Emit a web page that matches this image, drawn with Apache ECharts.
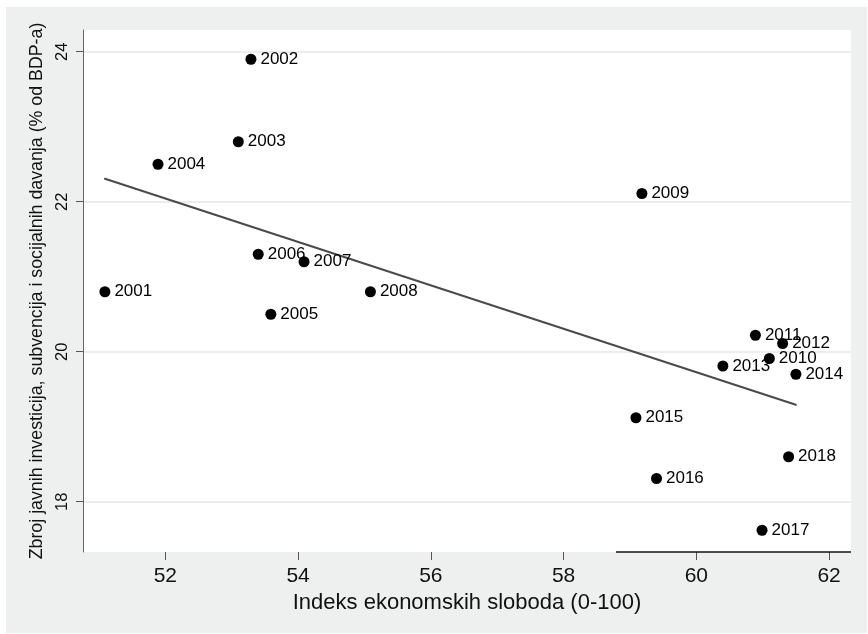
<!DOCTYPE html>
<html>
<head>
<meta charset="utf-8">
<script src="https://cdn.jsdelivr.net/npm/echarts@6/dist/echarts.min.js"></script>
<style>
html,body{margin:0;padding:0;background:#fff;}
#c{width:868px;height:634px;}
</style>
</head>
<body>
<div id="c"></div>
<script>
// Data
const years = ['2001','2002','2003','2004','2005','2006','2007','2008','2009','2010','2011','2012','2013','2014','2015','2016','2017','2018'];
const freedomIndex = [51.09,53.29,53.10,51.89,53.59,53.40,54.09,55.09,59.18,61.10,60.89,61.30,60.40,61.50,59.09,59.40,60.99,61.39];
const spending = [20.80,23.90,22.80,22.50,20.50,21.30,21.20,20.80,22.11,19.91,20.22,20.11,19.81,19.70,19.12,18.31,17.62,18.60];
const fitX = [51.08, 61.51];
const fitY = [22.31, 19.29];
const xTicks = [52,54,56,58,60,62];
const yTicks = [18,20,22,24];
const xTitle = 'Indeks ekonomskih sloboda (0-100)';
const yTitle = 'Zbroj javnih investicija, subvencija i socijalnih davanja (% od BDP-a)';

const FONT = '"Liberation Sans", Arial, Helvetica, sans-serif';
const X_MIN = 50.76, X_MAX = 62.33, Y_MIN = 17.33, Y_MAX = 24.29;

const points = years.map((y,i)=>[freedomIndex[i], spending[i], y]);

const chart = echarts.init(document.getElementById('c'), null, {renderer:'canvas'});
chart.setOption({
  backgroundColor: 'transparent',
  animation: false,
  graphic: [{
    type: 'rect', z: -10, silent: true,
    shape: {x: 6, y: 7, width: 861, height: 626},
    style: {fill: '#eef0ef'}
  }],
  grid: {left: 83, right: 17, top: 30, bottom: 82, show: true, backgroundColor: '#ffffff', borderWidth: 0},
  xAxis: {
    type: 'value', min: X_MIN, max: X_MAX,
    name: xTitle, nameLocation: 'middle', nameGap: 35,
    nameTextStyle: {fontFamily: FONT, fontSize: 22, color: '#111'},
    axisLine: {show: false},
    axisTick: {show: true, length: 8, lineStyle: {color: '#555', width: 1}, customValues: xTicks},
    axisLabel: {fontFamily: FONT, fontSize: 21, color: '#111', margin: 14, customValues: xTicks},
    splitLine: {show: false}
  },
  yAxis: {
    type: 'value', min: Y_MIN, max: Y_MAX,
    name: yTitle, nameLocation: 'middle', nameGap: 36,
    nameTextStyle: {fontFamily: FONT, fontSize: 17.8, color: '#111'},
    axisLine: {show: true, onZero: false, lineStyle: {color: '#666', width: 1}},
    axisTick: {show: true, length: 7, lineStyle: {color: '#555', width: 1}, customValues: yTicks},
    axisLabel: {fontFamily: FONT, fontSize: 16.5, color: '#111', margin: 12, rotate: 90, customValues: yTicks},
    splitLine: {show: true, lineStyle: {color: '#eceeed', width: 2}}
  },
  series: [
    {
      type: 'line',
      data: fitX.map((x,i)=>[x, fitY[i]]),
      showSymbol: false, symbol: 'none',
      lineStyle: {color: '#4a4a4a', width: 2},
      z: 2, silent: true
    },
    {
      type: 'scatter',
      data: points,
      symbol: 'circle', symbolSize: 11,
      itemStyle: {color: '#000', opacity: 1},
      label: {
        show: true, position: 'right', distance: 4,
        formatter: p => p.data[2],
        fontFamily: FONT, fontSize: 17, color: '#000'
      },
      z: 3,
      markLine: {
        silent: true, symbol: 'none', label: {show: false},
        lineStyle: {color: '#111', width: 1.5, type: 'solid'},
        data: [[{coord: [58.79, Y_MIN]}, {coord: [X_MAX, Y_MIN]}]]
      }
    }
  ]
});
</script>
</body>
</html>
